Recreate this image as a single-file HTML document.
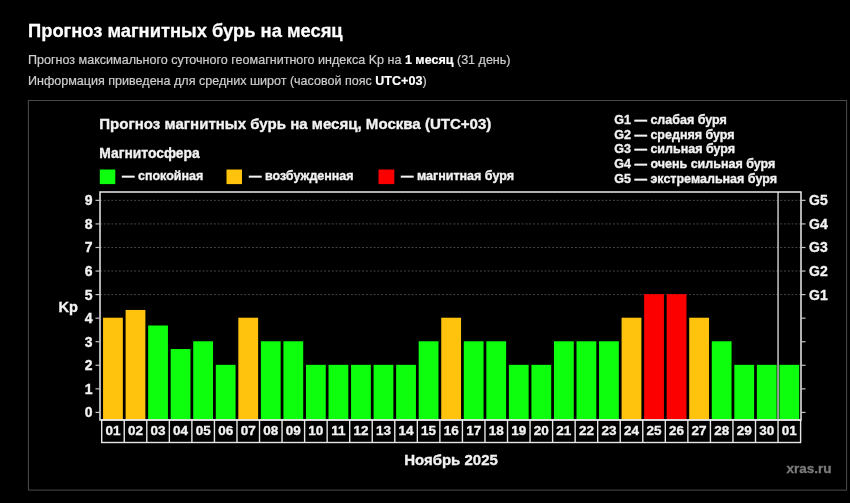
<!DOCTYPE html>
<html lang="ru"><head><meta charset="utf-8"><title>Прогноз магнитных бурь на месяц</title>
<style>
html,body{margin:0;padding:0;background:#000;}
body{width:850px;height:503px;position:relative;overflow:hidden;font-family:"Liberation Sans",sans-serif;color:#fff;}
#wrap{position:absolute;left:0;top:0;width:850px;height:503px;will-change:transform;}
h1{position:absolute;left:28px;top:18.7px;margin:0;transform:scaleX(0.958);transform-origin:0 0;font-size:19.15px;line-height:24px;font-weight:bold;color:#fff;white-space:nowrap;filter:blur(0.4px);-webkit-text-stroke:0.3px #fff;}
p{position:absolute;left:28px;margin:0;font-size:12.55px;line-height:16px;color:#cdcdcd;white-space:nowrap;filter:blur(0.35px);-webkit-text-stroke:0.2px #cdcdcd;}
p b{color:#fff;-webkit-text-stroke:0.2px #fff;}
#l1{top:52px;} #l2{top:73px;}
</style></head><body><div id="wrap">
<h1>Прогноз магнитных бурь на месяц</h1>
<p id="l1">Прогноз максимального суточного геомагнитного индекса Kp на <b>1 месяц</b> (31 день)</p>
<p id="l2">Информация приведена для средних широт (часовой пояс <b>UTC+03</b>)</p>
<svg width="850" height="503" viewBox="0 0 850 503" style="position:absolute;left:0;top:0" font-family="Liberation Sans, sans-serif" font-weight="bold" fill="#f2f2f2" filter="url(#soft)">
<defs><filter id="soft" x="0" y="0" width="100%" height="100%" filterUnits="userSpaceOnUse"><feGaussianBlur stdDeviation="0.4"/></filter></defs>
<style>text{stroke:#f2f2f2;stroke-width:0.35px;paint-order:stroke}</style>
<rect x="28.4" y="100.5" width="818.2" height="389.6" fill="none" stroke="#4c4c4c" stroke-width="1"/>
<line x1="100" x2="801" y1="294.60" y2="294.60" stroke="#474747" stroke-width="1" stroke-dasharray="1.9,1.9"/>
<line x1="100" x2="801" y1="271.04" y2="271.04" stroke="#474747" stroke-width="1" stroke-dasharray="1.9,1.9"/>
<line x1="100" x2="801" y1="247.48" y2="247.48" stroke="#474747" stroke-width="1" stroke-dasharray="1.9,1.9"/>
<line x1="100" x2="801" y1="223.92" y2="223.92" stroke="#474747" stroke-width="1" stroke-dasharray="1.9,1.9"/>
<line x1="100" x2="801" y1="200.36" y2="200.36" stroke="#474747" stroke-width="1" stroke-dasharray="1.9,1.9"/>
<rect x="103.05" y="317.71" width="19.8" height="102.29" fill="#ffc20d"/>
<rect x="125.59" y="309.94" width="19.8" height="110.06" fill="#ffc20d"/>
<rect x="148.14" y="325.48" width="19.8" height="94.52" fill="#0aff0a"/>
<rect x="170.69" y="349.04" width="19.8" height="70.96" fill="#0aff0a"/>
<rect x="193.23" y="341.27" width="19.8" height="78.73" fill="#0aff0a"/>
<rect x="215.78" y="364.83" width="19.8" height="55.17" fill="#0aff0a"/>
<rect x="238.32" y="317.71" width="19.8" height="102.29" fill="#ffc20d"/>
<rect x="260.87" y="341.27" width="19.8" height="78.73" fill="#0aff0a"/>
<rect x="283.41" y="341.27" width="19.8" height="78.73" fill="#0aff0a"/>
<rect x="305.96" y="364.83" width="19.8" height="55.17" fill="#0aff0a"/>
<rect x="328.50" y="364.83" width="19.8" height="55.17" fill="#0aff0a"/>
<rect x="351.05" y="364.83" width="19.8" height="55.17" fill="#0aff0a"/>
<rect x="373.59" y="364.83" width="19.8" height="55.17" fill="#0aff0a"/>
<rect x="396.14" y="364.83" width="19.8" height="55.17" fill="#0aff0a"/>
<rect x="418.68" y="341.27" width="19.8" height="78.73" fill="#0aff0a"/>
<rect x="441.23" y="317.71" width="19.8" height="102.29" fill="#ffc20d"/>
<rect x="463.77" y="341.27" width="19.8" height="78.73" fill="#0aff0a"/>
<rect x="486.32" y="341.27" width="19.8" height="78.73" fill="#0aff0a"/>
<rect x="508.86" y="364.83" width="19.8" height="55.17" fill="#0aff0a"/>
<rect x="531.41" y="364.83" width="19.8" height="55.17" fill="#0aff0a"/>
<rect x="553.95" y="341.27" width="19.8" height="78.73" fill="#0aff0a"/>
<rect x="576.50" y="341.27" width="19.8" height="78.73" fill="#0aff0a"/>
<rect x="599.04" y="341.27" width="19.8" height="78.73" fill="#0aff0a"/>
<rect x="621.59" y="317.71" width="19.8" height="102.29" fill="#ffc20d"/>
<rect x="644.13" y="294.15" width="19.8" height="125.85" fill="#fc0404"/>
<rect x="666.68" y="294.15" width="19.8" height="125.85" fill="#fc0404"/>
<rect x="689.22" y="317.71" width="19.8" height="102.29" fill="#ffc20d"/>
<rect x="711.77" y="341.27" width="19.8" height="78.73" fill="#0aff0a"/>
<rect x="734.31" y="364.83" width="19.8" height="55.17" fill="#0aff0a"/>
<rect x="756.86" y="364.83" width="19.8" height="55.17" fill="#0aff0a"/>
<rect x="779.40" y="364.83" width="19.8" height="55.17" fill="#0aff0a"/>
<line x1="778.05" x2="778.05" y1="192" y2="420" stroke="#d4d4d4" stroke-width="1.4"/>
<rect x="100" y="192" width="701" height="228" fill="none" stroke="#ececec" stroke-width="1.5"/>
<line x1="95.5" x2="100" y1="412.40" y2="412.40" stroke="#c4c4c4" stroke-width="1.2"/>
<line x1="801" x2="805.5" y1="412.40" y2="412.40" stroke="#c4c4c4" stroke-width="1.2"/>
<text x="92.6" y="417.40" font-size="14" text-anchor="end">0</text>
<line x1="95.5" x2="100" y1="388.84" y2="388.84" stroke="#c4c4c4" stroke-width="1.2"/>
<line x1="801" x2="805.5" y1="388.84" y2="388.84" stroke="#c4c4c4" stroke-width="1.2"/>
<text x="92.6" y="393.84" font-size="14" text-anchor="end">1</text>
<line x1="95.5" x2="100" y1="365.28" y2="365.28" stroke="#c4c4c4" stroke-width="1.2"/>
<line x1="801" x2="805.5" y1="365.28" y2="365.28" stroke="#c4c4c4" stroke-width="1.2"/>
<text x="92.6" y="370.28" font-size="14" text-anchor="end">2</text>
<line x1="95.5" x2="100" y1="341.72" y2="341.72" stroke="#c4c4c4" stroke-width="1.2"/>
<line x1="801" x2="805.5" y1="341.72" y2="341.72" stroke="#c4c4c4" stroke-width="1.2"/>
<text x="92.6" y="346.72" font-size="14" text-anchor="end">3</text>
<line x1="95.5" x2="100" y1="318.16" y2="318.16" stroke="#c4c4c4" stroke-width="1.2"/>
<line x1="801" x2="805.5" y1="318.16" y2="318.16" stroke="#c4c4c4" stroke-width="1.2"/>
<text x="92.6" y="323.16" font-size="14" text-anchor="end">4</text>
<line x1="95.5" x2="100" y1="294.60" y2="294.60" stroke="#c4c4c4" stroke-width="1.2"/>
<line x1="801" x2="805.5" y1="294.60" y2="294.60" stroke="#c4c4c4" stroke-width="1.2"/>
<text x="92.6" y="299.60" font-size="14" text-anchor="end">5</text>
<line x1="95.5" x2="100" y1="271.04" y2="271.04" stroke="#c4c4c4" stroke-width="1.2"/>
<line x1="801" x2="805.5" y1="271.04" y2="271.04" stroke="#c4c4c4" stroke-width="1.2"/>
<text x="92.6" y="276.04" font-size="14" text-anchor="end">6</text>
<line x1="95.5" x2="100" y1="247.48" y2="247.48" stroke="#c4c4c4" stroke-width="1.2"/>
<line x1="801" x2="805.5" y1="247.48" y2="247.48" stroke="#c4c4c4" stroke-width="1.2"/>
<text x="92.6" y="252.48" font-size="14" text-anchor="end">7</text>
<line x1="95.5" x2="100" y1="223.92" y2="223.92" stroke="#c4c4c4" stroke-width="1.2"/>
<line x1="801" x2="805.5" y1="223.92" y2="223.92" stroke="#c4c4c4" stroke-width="1.2"/>
<text x="92.6" y="228.92" font-size="14" text-anchor="end">8</text>
<line x1="95.5" x2="100" y1="200.36" y2="200.36" stroke="#c4c4c4" stroke-width="1.2"/>
<line x1="801" x2="805.5" y1="200.36" y2="200.36" stroke="#c4c4c4" stroke-width="1.2"/>
<text x="92.6" y="205.36" font-size="14" text-anchor="end">9</text>
<text x="809" y="299.60" font-size="14">G1</text>
<text x="809" y="276.04" font-size="14">G2</text>
<text x="809" y="252.48" font-size="14">G3</text>
<text x="809" y="228.92" font-size="14">G4</text>
<text x="809" y="205.36" font-size="14">G5</text>
<text x="58.4" y="311.5" font-size="14.6">Kp</text>
<rect x="101.7" y="420" width="698.90" height="22.50" fill="none" stroke="#e6e6e6" stroke-width="1.4"/>
<line x1="124.25" x2="124.25" y1="420" y2="442.5" stroke="#e6e6e6" stroke-width="1.4"/>
<line x1="146.79" x2="146.79" y1="420" y2="442.5" stroke="#e6e6e6" stroke-width="1.4"/>
<line x1="169.34" x2="169.34" y1="420" y2="442.5" stroke="#e6e6e6" stroke-width="1.4"/>
<line x1="191.88" x2="191.88" y1="420" y2="442.5" stroke="#e6e6e6" stroke-width="1.4"/>
<line x1="214.43" x2="214.43" y1="420" y2="442.5" stroke="#e6e6e6" stroke-width="1.4"/>
<line x1="236.97" x2="236.97" y1="420" y2="442.5" stroke="#e6e6e6" stroke-width="1.4"/>
<line x1="259.51" x2="259.51" y1="420" y2="442.5" stroke="#e6e6e6" stroke-width="1.4"/>
<line x1="282.06" x2="282.06" y1="420" y2="442.5" stroke="#e6e6e6" stroke-width="1.4"/>
<line x1="304.61" x2="304.61" y1="420" y2="442.5" stroke="#e6e6e6" stroke-width="1.4"/>
<line x1="327.15" x2="327.15" y1="420" y2="442.5" stroke="#e6e6e6" stroke-width="1.4"/>
<line x1="349.69" x2="349.69" y1="420" y2="442.5" stroke="#e6e6e6" stroke-width="1.4"/>
<line x1="372.24" x2="372.24" y1="420" y2="442.5" stroke="#e6e6e6" stroke-width="1.4"/>
<line x1="394.79" x2="394.79" y1="420" y2="442.5" stroke="#e6e6e6" stroke-width="1.4"/>
<line x1="417.33" x2="417.33" y1="420" y2="442.5" stroke="#e6e6e6" stroke-width="1.4"/>
<line x1="439.88" x2="439.88" y1="420" y2="442.5" stroke="#e6e6e6" stroke-width="1.4"/>
<line x1="462.42" x2="462.42" y1="420" y2="442.5" stroke="#e6e6e6" stroke-width="1.4"/>
<line x1="484.97" x2="484.97" y1="420" y2="442.5" stroke="#e6e6e6" stroke-width="1.4"/>
<line x1="507.51" x2="507.51" y1="420" y2="442.5" stroke="#e6e6e6" stroke-width="1.4"/>
<line x1="530.06" x2="530.06" y1="420" y2="442.5" stroke="#e6e6e6" stroke-width="1.4"/>
<line x1="552.60" x2="552.60" y1="420" y2="442.5" stroke="#e6e6e6" stroke-width="1.4"/>
<line x1="575.15" x2="575.15" y1="420" y2="442.5" stroke="#e6e6e6" stroke-width="1.4"/>
<line x1="597.69" x2="597.69" y1="420" y2="442.5" stroke="#e6e6e6" stroke-width="1.4"/>
<line x1="620.24" x2="620.24" y1="420" y2="442.5" stroke="#e6e6e6" stroke-width="1.4"/>
<line x1="642.78" x2="642.78" y1="420" y2="442.5" stroke="#e6e6e6" stroke-width="1.4"/>
<line x1="665.33" x2="665.33" y1="420" y2="442.5" stroke="#e6e6e6" stroke-width="1.4"/>
<line x1="687.87" x2="687.87" y1="420" y2="442.5" stroke="#e6e6e6" stroke-width="1.4"/>
<line x1="710.42" x2="710.42" y1="420" y2="442.5" stroke="#e6e6e6" stroke-width="1.4"/>
<line x1="732.96" x2="732.96" y1="420" y2="442.5" stroke="#e6e6e6" stroke-width="1.4"/>
<line x1="755.51" x2="755.51" y1="420" y2="442.5" stroke="#e6e6e6" stroke-width="1.4"/>
<line x1="778.05" x2="778.05" y1="420" y2="442.5" stroke="#e6e6e6" stroke-width="1.4"/>
<text x="112.97" y="435.3" font-size="13.5" text-anchor="middle">01</text>
<text x="135.52" y="435.3" font-size="13.5" text-anchor="middle">02</text>
<text x="158.06" y="435.3" font-size="13.5" text-anchor="middle">03</text>
<text x="180.61" y="435.3" font-size="13.5" text-anchor="middle">04</text>
<text x="203.15" y="435.3" font-size="13.5" text-anchor="middle">05</text>
<text x="225.70" y="435.3" font-size="13.5" text-anchor="middle">06</text>
<text x="248.24" y="435.3" font-size="13.5" text-anchor="middle">07</text>
<text x="270.79" y="435.3" font-size="13.5" text-anchor="middle">08</text>
<text x="293.33" y="435.3" font-size="13.5" text-anchor="middle">09</text>
<text x="315.88" y="435.3" font-size="13.5" text-anchor="middle">10</text>
<text x="338.42" y="435.3" font-size="13.5" text-anchor="middle">11</text>
<text x="360.97" y="435.3" font-size="13.5" text-anchor="middle">12</text>
<text x="383.51" y="435.3" font-size="13.5" text-anchor="middle">13</text>
<text x="406.06" y="435.3" font-size="13.5" text-anchor="middle">14</text>
<text x="428.60" y="435.3" font-size="13.5" text-anchor="middle">15</text>
<text x="451.15" y="435.3" font-size="13.5" text-anchor="middle">16</text>
<text x="473.69" y="435.3" font-size="13.5" text-anchor="middle">17</text>
<text x="496.24" y="435.3" font-size="13.5" text-anchor="middle">18</text>
<text x="518.78" y="435.3" font-size="13.5" text-anchor="middle">19</text>
<text x="541.33" y="435.3" font-size="13.5" text-anchor="middle">20</text>
<text x="563.87" y="435.3" font-size="13.5" text-anchor="middle">21</text>
<text x="586.42" y="435.3" font-size="13.5" text-anchor="middle">22</text>
<text x="608.96" y="435.3" font-size="13.5" text-anchor="middle">23</text>
<text x="631.51" y="435.3" font-size="13.5" text-anchor="middle">24</text>
<text x="654.05" y="435.3" font-size="13.5" text-anchor="middle">25</text>
<text x="676.60" y="435.3" font-size="13.5" text-anchor="middle">26</text>
<text x="699.14" y="435.3" font-size="13.5" text-anchor="middle">27</text>
<text x="721.69" y="435.3" font-size="13.5" text-anchor="middle">28</text>
<text x="744.23" y="435.3" font-size="13.5" text-anchor="middle">29</text>
<text x="766.78" y="435.3" font-size="13.5" text-anchor="middle">30</text>
<text x="789.32" y="435.3" font-size="13.5" text-anchor="middle">01</text>
<text x="99.3" y="129.3" font-size="15.05">Прогноз магнитных бурь на месяц, Москва (UTC+03)</text>
<text x="99.3" y="157.6" font-size="13.85">Магнитосфера</text>
<rect x="99.8" y="169.5" width="15.5" height="14.6" fill="#0aff0a"/>
<rect x="226.5" y="169.5" width="15.5" height="14.6" fill="#ffc20d"/>
<rect x="378.5" y="169.5" width="15.8" height="14.6" fill="#fc0404"/>
<text x="122" y="179.7" font-size="12.5">— спокойная</text>
<text x="249" y="179.7" font-size="12.5">— возбужденная</text>
<text x="401" y="179.7" font-size="12.5">— магнитная буря</text>
<text x="614.3" y="123.9" font-size="12.5">G1 — слабая буря</text>
<text x="614.3" y="138.6" font-size="12.5">G2 — средняя буря</text>
<text x="614.3" y="153.3" font-size="12.5">G3 — сильная буря</text>
<text x="614.3" y="168.0" font-size="12.5">G4 — очень сильная буря</text>
<text x="614.3" y="182.7" font-size="12.5">G5 — экстремальная буря</text>
<text x="451" y="465.3" font-size="15" text-anchor="middle">Ноябрь 2025</text>
<text x="786.5" y="472.8" font-size="13.5" fill="#7a7a7a" style="stroke:#7a7a7a">xras.ru</text>
</svg>
</div></body></html>
